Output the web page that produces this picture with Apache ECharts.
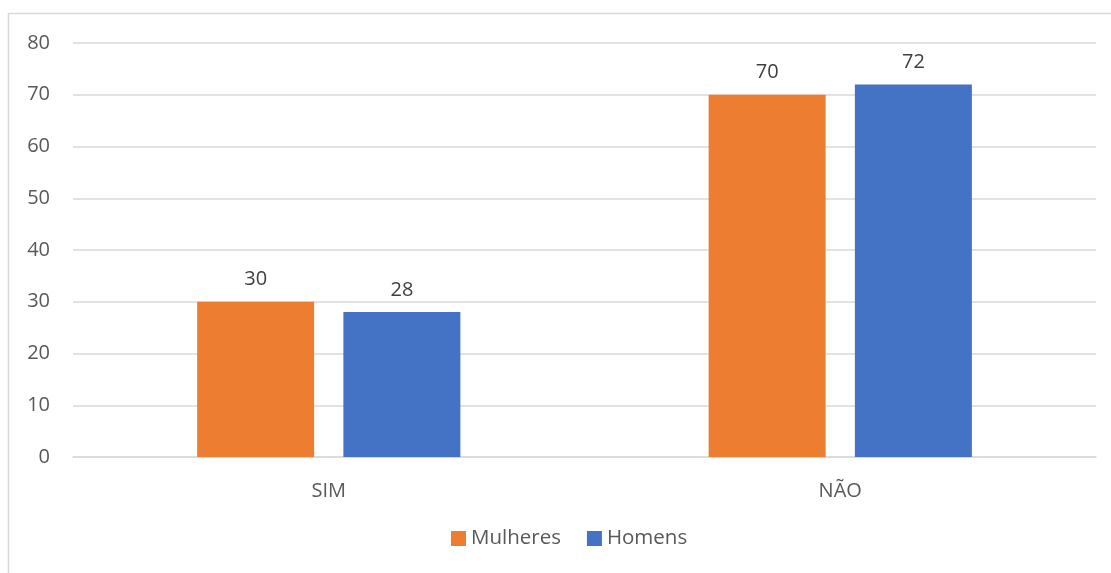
<!DOCTYPE html>
<html><head><meta charset="utf-8">
<script src="https://cdn.jsdelivr.net/npm/echarts@6/dist/echarts.min.js"></script>
<style>html,body{margin:0;padding:0;background:#fff}#c{width:1111px;height:573px}</style>
</head><body><div id="c"></div>
<script>
const categories = ['SIM', 'NÃO'];
const mulheres = [30, 70];
const homens = [28, 72];
const yTicks = [0, 10, 20, 30, 40, 50, 60, 70, 80];

const chart = echarts.init(document.getElementById('c'));
const font = 'Open Sans';
chart.setOption({
  animation: false,
  textStyle: { fontFamily: font },
  graphic: [{ type: 'rect', shape: { x: 8.5, y: 13.5, width: 1110, height: 570 }, style: { fill: 'none', stroke: '#d9d9d9', lineWidth: 1.5 }, silent: true }],
  grid: { left: 73, right: 15, top: 43, bottom: 116 },
  legend: {
    bottom: 19, left: 446, itemWidth: 15, itemHeight: 15, itemGap: 26,
    icon: 'rect',
    textStyle: { color: '#595959', fontSize: 20.5, fontFamily: font },
    data: ['Mulheres', 'Homens']
  },
  xAxis: {
    type: 'category', data: categories,
    axisLine: { lineStyle: { color: '#d9d9d9', width: 1.5 } },
    axisTick: { show: false },
    axisLabel: { color: '#595959', fontSize: 20, margin: 24, fontFamily: font }
  },
  yAxis: {
    type: 'value', min: yTicks[0], max: yTicks[yTicks.length - 1], interval: 10,
    axisLine: { show: false }, axisTick: { show: false },
    splitLine: { lineStyle: { color: '#d9d9d9', width: 1.5 } },
    axisLabel: { color: '#595959', fontSize: 20, margin: 23, fontFamily: font }
  },
  series: [
    { name: 'Mulheres', type: 'bar', data: mulheres, barWidth: 117, barGap: '25%',
      itemStyle: { color: '#ed7d31' },
      label: { show: true, position: 'top', distance: 12, color: '#404040', fontSize: 20, fontFamily: font } },
    { name: 'Homens', type: 'bar', data: homens, barWidth: 117,
      itemStyle: { color: '#4472c4' },
      label: { show: true, position: 'top', distance: 12, color: '#404040', fontSize: 20, fontFamily: font } }
  ]
});
</script></body></html>
